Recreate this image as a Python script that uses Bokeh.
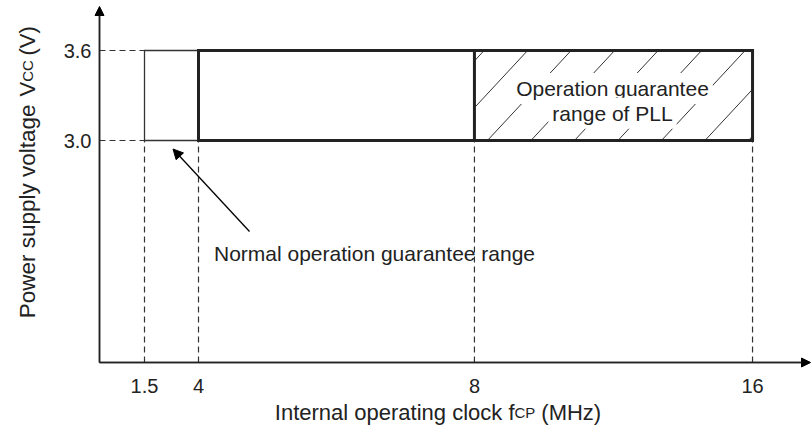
from bokeh.plotting import figure
from bokeh.models import (Range1d, FixedTicker, CustomJSTickFormatter, Arrow,
                          NormalHead, Label)
from bokeh.embed import file_html
from bokeh.resources import INLINE
import math

# ---------------- data ----------------
freq_mhz = [1.5, 4, 8, 16]
freq_labels = ["1.5", "4", "8", "16"]
freq_slot = [0.0, 1.0, 6.11, 11.26]      # schematic (non-linear) axis positions
vcc_min = 3.0
vcc_max = 3.6
vcc_ticks = [3.0, 3.6]
normal_range = [1.5, 4]                  # normal operation guarantee (thin box)
guarantee_range = [4, 16]                # thick box
pll_range = [8, 16]                      # operation guarantee range of PLL (hatched)

FONT = "Liberation Sans"
INK = "#222222"


def X(f):
    return freq_slot[freq_mhz.index(f)]


W, H = 811, 426
PXU = 54.0     # pixels per schematic unit
PXV = 150.0    # pixels per volt


def ux(px):    # page pixel -> x data
    return X(1.5) + (px - 144) / PXU


def vy(py):    # page pixel -> y data
    return vcc_min + (140 - py) / PXV


x0, x1 = ux(0), ux(W)
y0, y1 = vy(H), vy(0)
ax_x = ux(99)      # where the y axis sits
ax_y = vy(362)     # where the x axis sits

p = figure(width=W, height=H, output_backend="svg", toolbar_location=None,
           x_range=Range1d(x0, x1), y_range=Range1d(y0, y1),
           min_border_left=0, min_border_right=0, min_border_top=0,
           min_border_bottom=0)
p.grid.visible = False
p.outline_line_color = None
p.background_fill_color = "white"
p.border_fill_color = "white"

# ---------------- axes ----------------
p.xaxis.fixed_location = ax_y
p.yaxis.fixed_location = ax_x
p.xaxis.bounds = (ax_x, ux(809))
p.yaxis.bounds = (ax_y, vy(8))
p.xaxis.ticker = FixedTicker(ticks=freq_slot)
p.xaxis.formatter = CustomJSTickFormatter(
    args=dict(slots=freq_slot, labels=freq_labels),
    code="""
    let best = 0;
    for (let i = 0; i < slots.length; i++) {
        if (Math.abs(slots[i] - tick) < Math.abs(slots[best] - tick)) best = i;
    }
    return labels[best];
    """)
p.yaxis.ticker = FixedTicker(ticks=vcc_ticks)
p.yaxis.formatter = CustomJSTickFormatter(code="return tick.toFixed(1);")
for ax in (p.xaxis, p.yaxis):
    ax.major_tick_line_color = None
    ax.minor_tick_line_color = None
    ax.major_tick_out = 0
    ax.major_tick_in = 0
    ax.minor_tick_out = 0
    ax.minor_tick_in = 0
    ax.axis_line_color = INK
    ax.axis_line_width = 1.5
    ax.major_label_text_font = FONT
    ax.major_label_text_font_size = "20px"
    ax.major_label_text_color = INK
p.xaxis.major_label_standoff = 16
p.yaxis.major_label_standoff = 8

# axis arrows
p.add_layout(Arrow(x_start=ax_x, y_start=ax_y, x_end=ax_x, y_end=vy(6),
                   line_color=INK, line_width=1.5,
                   end=NormalHead(size=9, fill_color="black", line_color="black")))
p.add_layout(Arrow(x_start=ax_x, y_start=ax_y, x_end=ux(810), y_end=ax_y,
                   line_color=INK, line_width=1.5,
                   end=NormalHead(size=9, fill_color="black", line_color="black")))

# ---------------- dashed guides ----------------
p.segment(x0=[X(f) for f in freq_mhz], y0=[ax_y] * len(freq_mhz),
          x1=[X(f) for f in freq_mhz], y1=[vcc_min] * len(freq_mhz),
          line_color="#333333", line_width=1.2, line_dash="6 4")
p.segment(x0=[ax_x] * len(vcc_ticks), y0=vcc_ticks,
          x1=[X(normal_range[0])] * len(vcc_ticks), y1=vcc_ticks,
          line_color="#333333", line_width=1.2, line_dash="6 4")

# ---------------- hatching of PLL range ----------------
hx0, hx1 = X(pll_range[0]), X(pll_range[1])
spacing = 43.5 / PXU
rise = 83.7 / PXU          # horizontal shift from bottom to top of box
phase = 13 / PXU
hs_x0, hs_y0, hs_x1, hs_y1 = [], [], [], []
k = -3
while True:
    b = hx0 + phase + k * spacing
    if b > hx1:
        break
    t_min = max(0.0, (hx0 - b) / rise)
    t_max = min(1.0, (hx1 - b) / rise)
    if t_max - t_min > 0.02:
        hs_x0.append(b + rise * t_min)
        hs_y0.append(vcc_min + (vcc_max - vcc_min) * t_min)
        hs_x1.append(b + rise * t_max)
        hs_y1.append(vcc_min + (vcc_max - vcc_min) * t_max)
    k += 1
p.segment(x0=hs_x0, y0=hs_y0, x1=hs_x1, y1=hs_y1, line_color="#333333", line_width=1.0)

# ---------------- boxes ----------------
p.quad(left=[X(normal_range[0])], right=[X(normal_range[1])],
       bottom=[vcc_min], top=[vcc_max], fill_color=None,
       line_color="#333333", line_width=1.3, line_join="miter")
p.quad(left=[X(guarantee_range[0])], right=[X(guarantee_range[1])],
       bottom=[vcc_min], top=[vcc_max], fill_color=None,
       line_color=INK, line_width=3, line_join="miter")
p.segment(x0=[X(pll_range[0])], y0=[vcc_min], x1=[X(pll_range[0])], y1=[vcc_max],
          line_color=INK, line_width=3)

# ---------------- annotations ----------------
for txt, py in (("Operation guarantee", 88), ("range of PLL", 112.7)):
    p.add_layout(Label(x=(hx0 + hx1) / 2 - 1 / PXU, y=vy(py), text=txt,
                       text_align="center", text_baseline="alphabetic",
                       text_font=FONT, text_font_size="21px", text_color=INK,
                       background_fill_color="white", padding=4))

p.add_layout(Label(x=ux(213.5), y=vy(253), text="Normal operation guarantee range",
                   text_align="left", text_baseline="alphabetic",
                   text_font=FONT, text_font_size="21px", text_color=INK))

p.add_layout(Arrow(x_start=ux(249), y_start=vy(231), x_end=ux(172.5), y_end=vy(148.5),
                   line_color="black", line_width=1.3,
                   end=NormalHead(size=10, fill_color="black", line_color="black")))


def title_piece(text, x, y, size, align="left", angle=0.0):
    p.add_layout(Label(x=x, y=y, text=text, angle=angle,
                       text_align=align, text_baseline="alphabetic",
                       text_font=FONT, text_font_size=size, text_color=INK))


# x axis title: Internal operating clock fCP (MHz)
xb = vy(412)
title_piece("Internal operating clock f", ux(514), xb, "22px", "right")
title_piece("CP", ux(514), xb, "15px")
title_piece("(MHz)", ux(540.8), xb, "22px")

# y axis title: Power supply voltage  VCC (V)
yb = ux(27)
up = math.pi / 2
title_piece("Power supply voltage", yb, vy(104), "22.5px", "right", up)
title_piece("V", yb, vy(96), "22px", "left", up)
title_piece("CC", yb, vy(81.3), "15px", "left", up)
title_piece("(V)", yb, vy(55), "22px", "left", up)

open("out.html", "w").write(file_html(p, INLINE))
